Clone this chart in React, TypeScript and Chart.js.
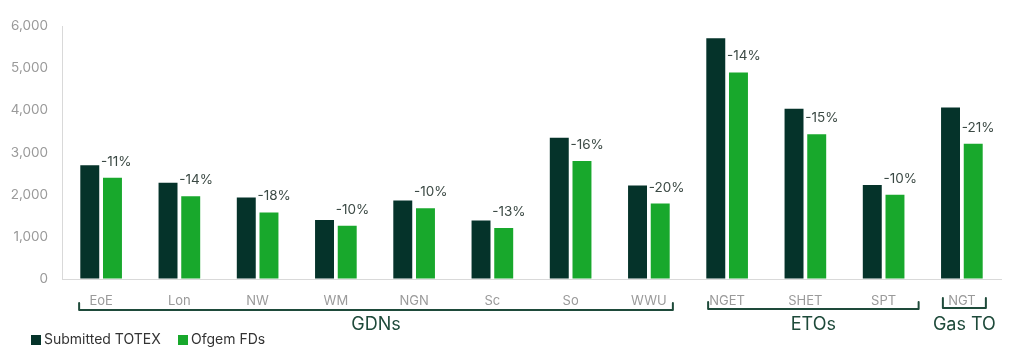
import React, { useEffect, useRef } from "react";
import { Chart, registerables } from "chart.js";

Chart.register(...registerables);

const categories = ["EoE", "Lon", "NW", "WM", "NGN", "Sc", "So", "WWU", "NGET", "SHET", "SPT", "NGT"];
const submittedTotex = [2700, 2280, 1930, 1400, 1860, 1390, 3350, 2220, 5710, 4040, 2230, 4070];
const ofgemFDs = [2400, 1960, 1580, 1260, 1680, 1210, 2800, 1790, 4900, 3430, 2000, 3210];
const pctLabels = ["-11%", "-14%", "-18%", "-10%", "-10%", "-13%", "-16%", "-20%", "-14%", "-15%", "-10%", "-21%"];
const groupNames = ["GDNs", "ETOs", "Gas TO"];
const groupStart = [0, 8, 11];
const groupEnd = [7, 10, 11];
const seriesNames = ["Submitted TOTEX", "Ofgem FDs"];

const DARK = "#05332a";
const GREEN = "#18a82c";
const FONT = "Inter";

const bracketStyle = [
  { l: -22, r: 24, y: 310, tick: 7 },
  { l: -19, r: 35, y: 309, tick: 7 },
  { l: -19, r: 24, y: 308, tick: 10 },
];

const overlayPlugin = {
  id: "overlay",
  afterDatasetsDraw(chart: any) {
    const ctx = chart.ctx;
    const meta = chart.getDatasetMeta(1);
    ctx.save();
    ctx.font = `13.5px ${FONT}`;
    ctx.fillStyle = "#3c4a45";
    ctx.textAlign = "left";
    ctx.textBaseline = "middle";
    meta.data.forEach((el: any, i: number) => {
      ctx.fillText(pctLabels[i], el.x - el.width / 2 - 2, el.y - 16);
    });
    ctx.restore();
  },
  afterDraw(chart: any) {
    const ctx = chart.ctx;
    const x = chart.scales.x;
    ctx.save();
    ctx.strokeStyle = "#1e4a3a";
    ctx.lineWidth = 2;
    ctx.lineJoin = "round";
    ctx.lineCap = "round";
    groupNames.forEach((name, g) => {
      const s = bracketStyle[g];
      const x0 = x.getPixelForValue(groupStart[g]) + s.l;
      const x1 = x.getPixelForValue(groupEnd[g]) + s.r;
      ctx.beginPath();
      ctx.moveTo(x0, s.y - s.tick);
      ctx.lineTo(x0, s.y);
      ctx.lineTo(x1, s.y);
      ctx.lineTo(x1, s.y - s.tick);
      ctx.stroke();
      ctx.font = `18px ${FONT}`;
      ctx.fillStyle = "#1e4a3a";
      ctx.textAlign = "center";
      ctx.textBaseline = "middle";
      ctx.fillText(name, (x0 + x1) / 2, 325);
    });
    // legend
    const colors = [DARK, GREEN];
    const lx = [31, 178];
    ctx.font = `14px ${FONT}`;
    ctx.textAlign = "left";
    ctx.textBaseline = "middle";
    seriesNames.forEach((n, i) => {
      ctx.fillStyle = colors[i];
      ctx.fillRect(lx[i], 335, 10, 10);
      ctx.fillStyle = "#333333";
      ctx.fillText(n, lx[i] + 13, 340);
    });
    ctx.restore();
  },
};

export default function App() {
  const ref = useRef<HTMLCanvasElement>(null);
  useEffect(() => {
    document.body.style.margin = "0";
    const chart = new Chart(ref.current!, {
      type: "bar",
      data: {
        labels: categories,
        datasets: [
          { label: seriesNames[0], data: submittedTotex, backgroundColor: DARK, categoryPercentage: 0.58, barPercentage: 0.835 },
          { label: seriesNames[1], data: ofgemFDs, backgroundColor: GREEN, categoryPercentage: 0.58, barPercentage: 0.835 },
        ],
      },
      options: {
        responsive: false,
        animation: false,
        devicePixelRatio: 1,
        layout: { padding: { top: 26, right: 23, left: 0, bottom: 0 } },
        plugins: { legend: { display: false }, tooltip: { enabled: false } },
        scales: {
          x: {
            afterFit: (s: any) => { s.height = 73; },
            grid: { display: true, drawOnChartArea: false, drawTicks: false },
            border: { display: true, color: "#d9d9d9", width: 1 },
            ticks: { color: "#9a9a9a", font: { family: FONT, size: 13 }, padding: 14 },
          },
          y: {
            min: 0,
            max: 6000,
            afterFit: (s: any) => { s.width = 62; },
            grid: { display: true, drawOnChartArea: false, drawTicks: false },
            border: { display: true, color: "#d9d9d9", width: 1 },
            ticks: { stepSize: 1000, color: "#9a9a9a", font: { family: FONT, size: 13.5 }, padding: 14 },
          },
        },
      },
      plugins: [overlayPlugin],
    });
    return () => chart.destroy();
  }, []);
  return (
    <div style={{ width: 1024, height: 352 }}>
      <canvas ref={ref} width={1024} height={352} />
    </div>
  );
}
